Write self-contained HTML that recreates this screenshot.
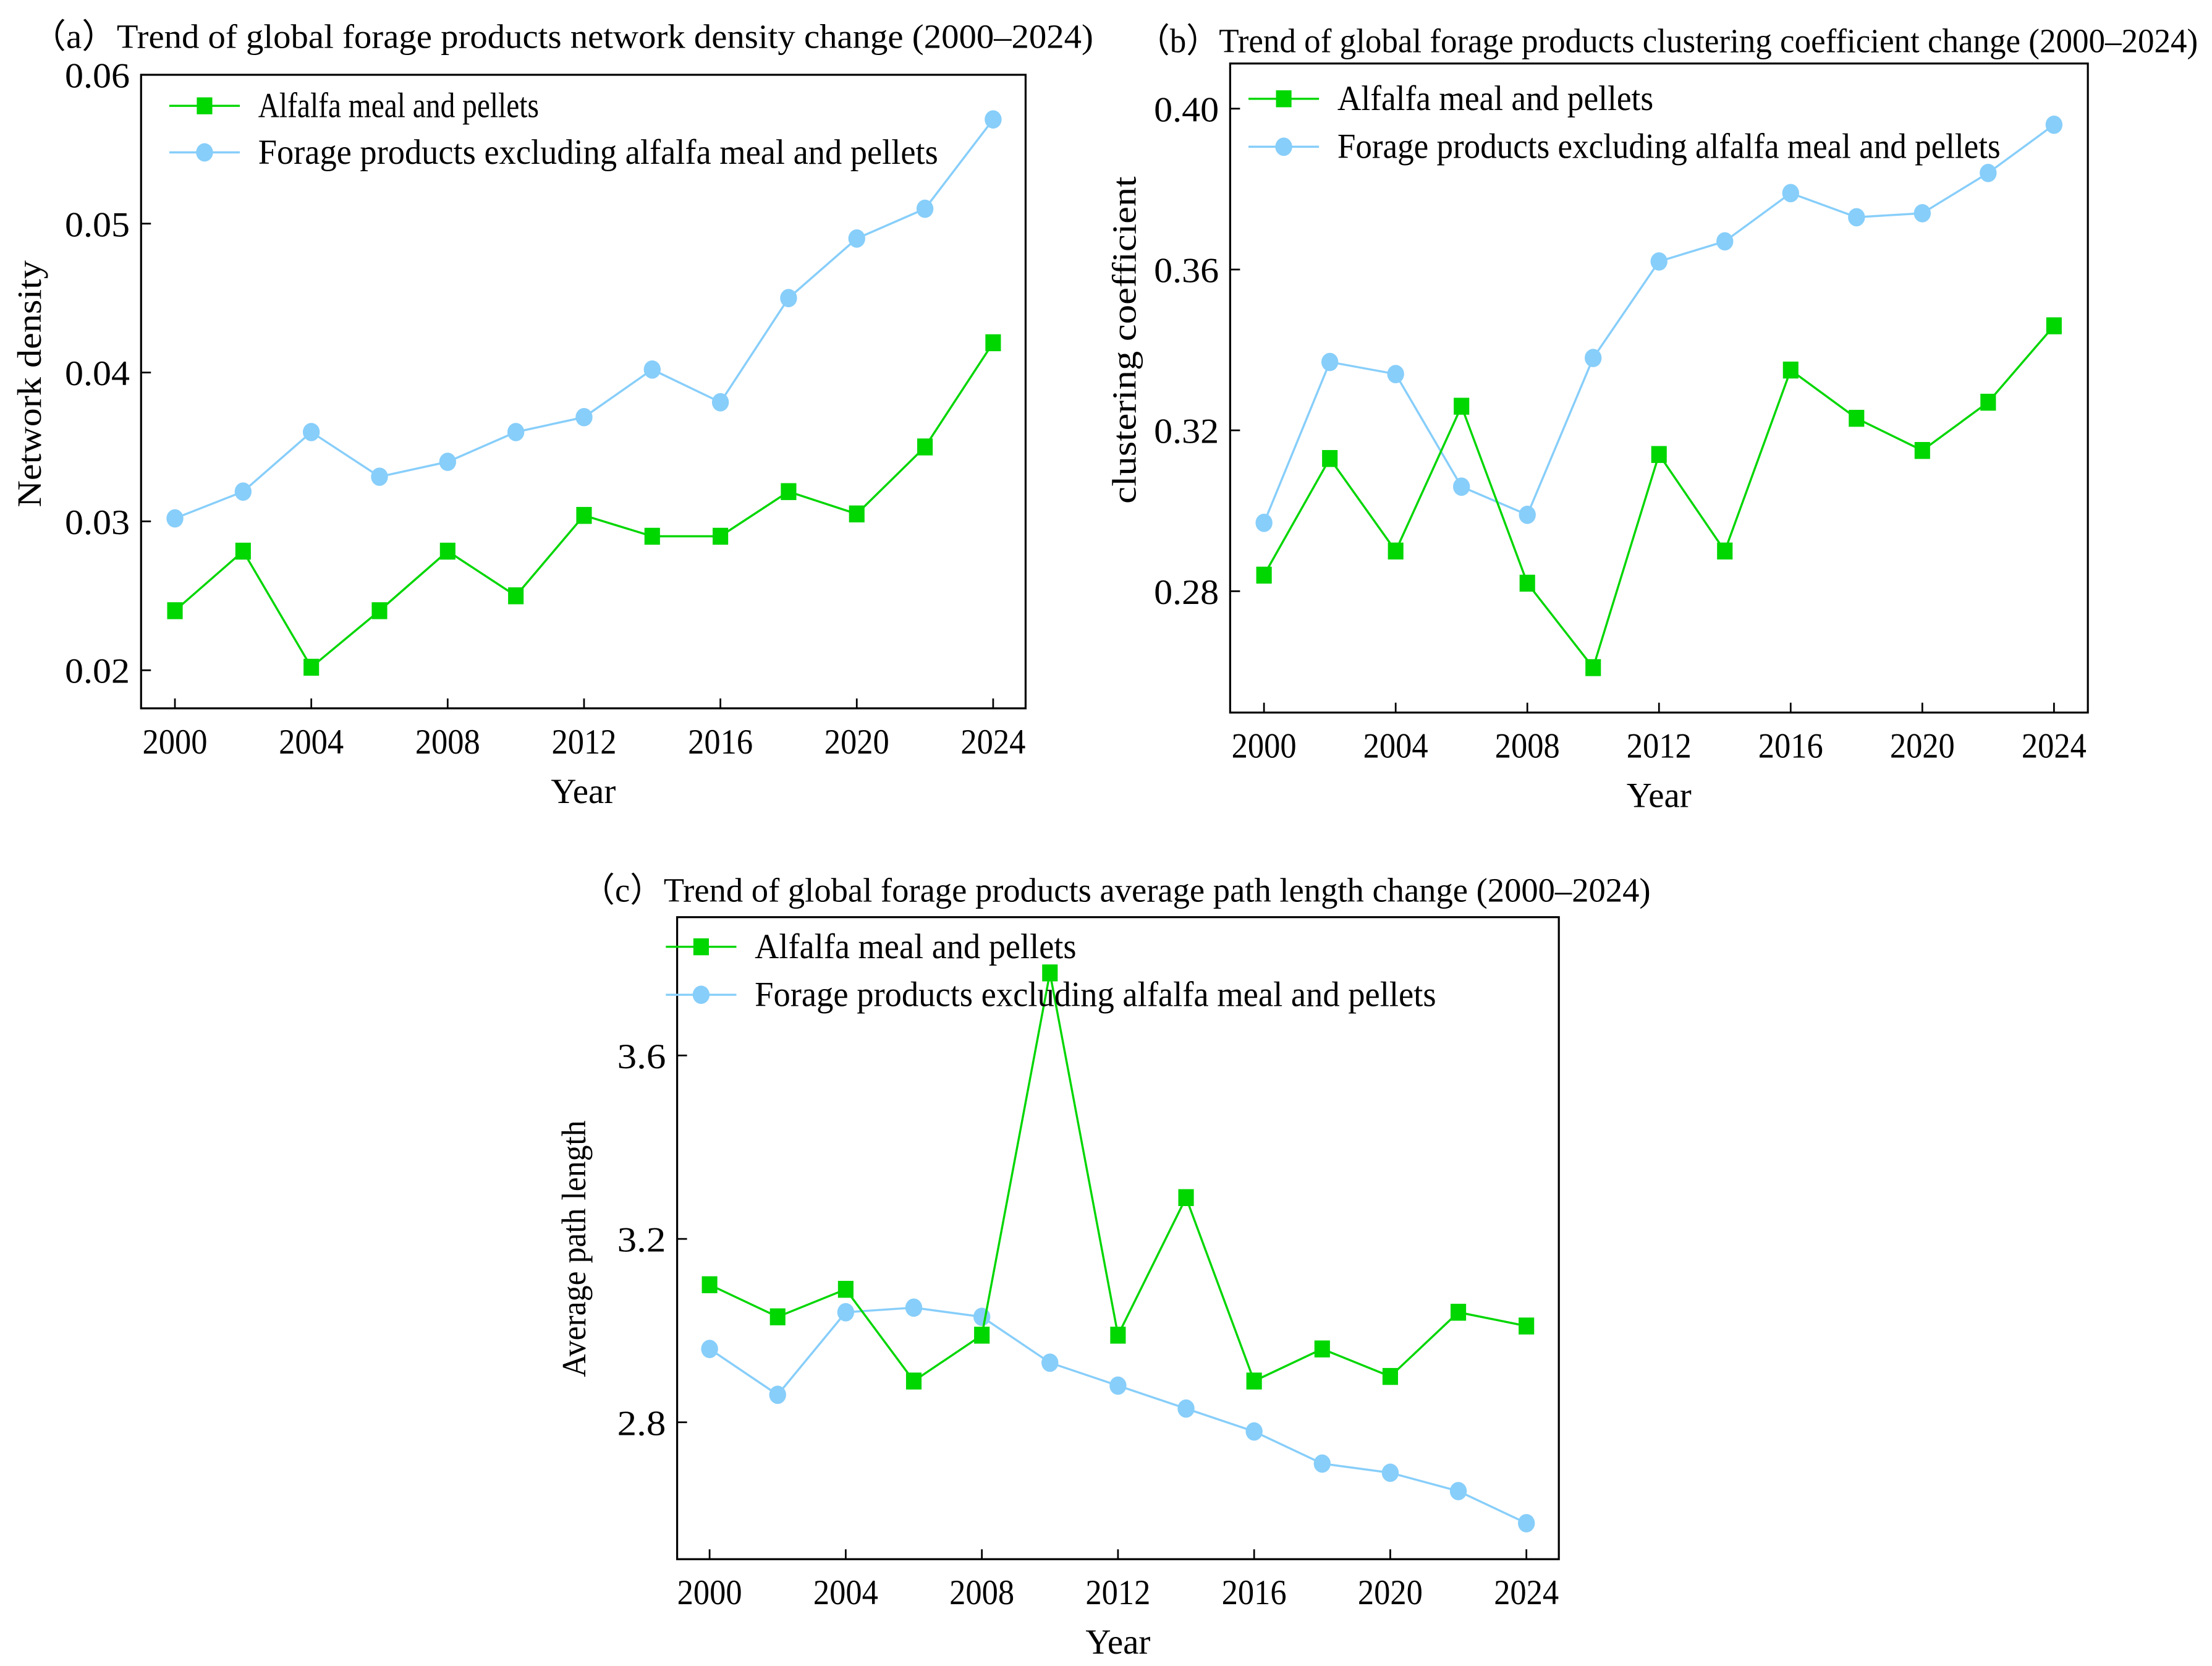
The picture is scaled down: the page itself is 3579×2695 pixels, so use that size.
<!DOCTYPE html>
<html><head><meta charset="utf-8"><style>
html,body{margin:0;padding:0;background:#fff;}
svg{display:block;font-family:"Liberation Serif",serif;}
</style></head><body>
<svg id="fig" width="3579" height="2695" viewBox="0 0 1568 1180.7" xmlns="http://www.w3.org/2000/svg">
<rect width="1568" height="1181" fill="#fff"/>
</svg>
<script>
const years = [2000,2002,2004,2006,2008,2010,2012,2014,2016,2018,2020,2022,2024];
const xTicks = [2000,2004,2008,2012,2016,2020,2024];
const aGreen = [0.024,0.028,0.0202,0.024,0.028,0.025,0.0304,0.029,0.029,0.032,0.0305,0.035,0.042];
const aBlue = [0.0302,0.032,0.036,0.033,0.034,0.036,0.037,0.0402,0.038,0.045,0.049,0.051,0.057];
const aTicks = ["0.02","0.03","0.04","0.05","0.06"];
const bGreen = [0.284,0.313,0.290,0.326,0.282,0.261,0.314,0.290,0.335,0.323,0.315,0.327,0.346];
const bBlue = [0.297,0.337,0.334,0.306,0.299,0.338,0.362,0.367,0.379,0.373,0.374,0.384,0.396];
const bTicks = ["0.28","0.32","0.36","0.40"];
const cGreen = [3.10,3.03,3.09,2.89,2.99,3.78,2.99,3.29,2.89,2.96,2.90,3.04,3.01];
const cBlue = [2.96,2.86,3.04,3.05,3.03,2.93,2.88,2.83,2.78,2.71,2.69,2.65,2.58];
const cTicks = ["2.8","3.2","3.6"];
const seriesNames = ["Alfalfa meal and pellets","Forage products excluding alfalfa meal and pellets"];

const NS="http://www.w3.org/2000/svg";
const svg=document.getElementById('fig');
function mk(tag,attrs,parent,text){const e=document.createElementNS(NS,tag);for(const k in attrs)e.setAttribute(k,attrs[k]);if(text!==undefined)e.textContent=text;(parent||svg).appendChild(e);return e;}

function panel(o){
  const g=mk('g',{});
  
  
  const xs=v=>o.x0+(v-2000)*(o.x1-o.x0)/24;
  const ys=v=>o.yA+(v-o.vA)*(o.yB-o.yA)/(o.vB-o.vA);
  const t=mk('text',{x:o.tx,y:o.ty,'font-size':24,textLength:o.tw,lengthAdjust:'spacingAndGlyphs'},g,o.title);
  
  
  const box=mk('rect',{x:o.L,y:o.T,width:o.R-o.L,height:o.B-o.T,fill:'none',stroke:'#000','stroke-width':1.4},g);
  
  
  xTicks.forEach(v=>{
    const x=xs(v);
    mk('line',{x1:x,x2:x,y1:o.B,y2:o.B-7,stroke:'#000','stroke-width':1.2},g);
    const l=mk('text',{x:x,y:o.B+32,'font-size':25,'text-anchor':'middle',textLength:46,lengthAdjust:'spacingAndGlyphs'},g,String(v));
    
    
  });
  o.ticks.forEach(s=>{
    const y=ys(parseFloat(s));
    mk('line',{x1:o.L,x2:o.L+7,y1:y,y2:y,stroke:'#000','stroke-width':1.2},g);
    const l=mk('text',{x:o.L-8,y:y+9,'font-size':25,'text-anchor':'end',textLength:s.length*11.5,lengthAdjust:'spacingAndGlyphs'},g,s);
    
    
  });
  const xl=mk('text',{x:(o.L+o.R)/2,y:o.B+67,'font-size':25,'text-anchor':'middle',textLength:46,lengthAdjust:'spacingAndGlyphs'},g,'Year');
  
  
  const yl=mk('text',{x:0,y:0,'font-size':24,'text-anchor':'middle',textLength:o.ylw,lengthAdjust:'spacingAndGlyphs',transform:`translate(${o.ylx},${o.yly}) rotate(-90)`},g,o.ylabel);
  
  
  [[o.blue,'#87CEFA','circle'],[o.green,'#00D600','square']].forEach(([data,col,shape])=>{
    const pts=data.map((v,i)=>xs(years[i]).toFixed(2)+','+ys(v).toFixed(2)).join(' ');
    const pl=mk('polyline',{points:pts,fill:'none',stroke:col,'stroke-width':1.5},g);
    
    
    data.forEach((v,i)=>{
      const x=xs(years[i]),y=ys(v);let m;
      if(shape==='circle') m=mk('ellipse',{cx:x,cy:y,rx:6,ry:6.5,fill:col},g);
      else m=mk('rect',{x:x-5.5,y:y-6,width:11,height:12,fill:col},g);
      
      
    });
  });
  [[o.lgY1,'#00D600','square',seriesNames[0],o.lw1],[o.lgY2,'#87CEFA','circle',seriesNames[1],o.lw2]].forEach(([y,col,shape,name,w])=>{
    const le=mk('g',{},g);
    
    
    mk('line',{x1:o.lgX,x2:o.lgX+50,y1:y,y2:y,stroke:col,'stroke-width':1.5},le);
    if(shape==='circle') mk('ellipse',{cx:o.lgX+25,cy:y,rx:6,ry:6.5,fill:col},le);
    else mk('rect',{x:o.lgX+19.5,y:y-6,width:11,height:12,fill:col},le);
    mk('text',{x:o.lgX+63,y:y+8,'font-size':25,textLength:w,lengthAdjust:'spacingAndGlyphs'},le,name);
  });
}

panel({id:'density',L:100,R:727,T:53,B:502,x0:124,x1:704,yA:475,vA:0.02,yB:53,vB:0.06,
  ticks:aTicks,green:aGreen,blue:aBlue,title:'（a）Trend of global forage products network density change (2000–2024)',tx:22,ty:34,tw:753,
  ylabel:'Network density',ylw:175,ylx:29,yly:272,lgX:120,lgY1:75,lgY2:108,lw1:199,lw2:482});
panel({id:'clustering',L:872,R:1480,T:45,B:505,x0:896,x1:1456,yA:419,vA:0.28,yB:77,vB:0.40,
  ticks:bTicks,green:bGreen,blue:bBlue,title:'（b）Trend of global forage products clustering coefficient change (2000–2024)',tx:806,ty:37,tw:752,
  ylabel:'clustering coefficient',ylw:232,ylx:805,yly:241,lgX:885,lgY1:70,lgY2:104,lw1:224,lw2:470});
panel({id:'path-length',L:480,R:1105,T:650,B:1105,x0:503,x1:1082,yA:1008,vA:2.8,yB:748,vB:3.6,
  ticks:cTicks,green:cGreen,blue:cBlue,title:'（c）Trend of global forage products average path length change (2000–2024)',tx:412,ty:639,tw:758,
  ylabel:'Average path length',ylw:182,ylx:415,yly:885,lgX:472,lgY1:671,lgY2:705,lw1:228,lw2:483});
</script>
</body></html>
